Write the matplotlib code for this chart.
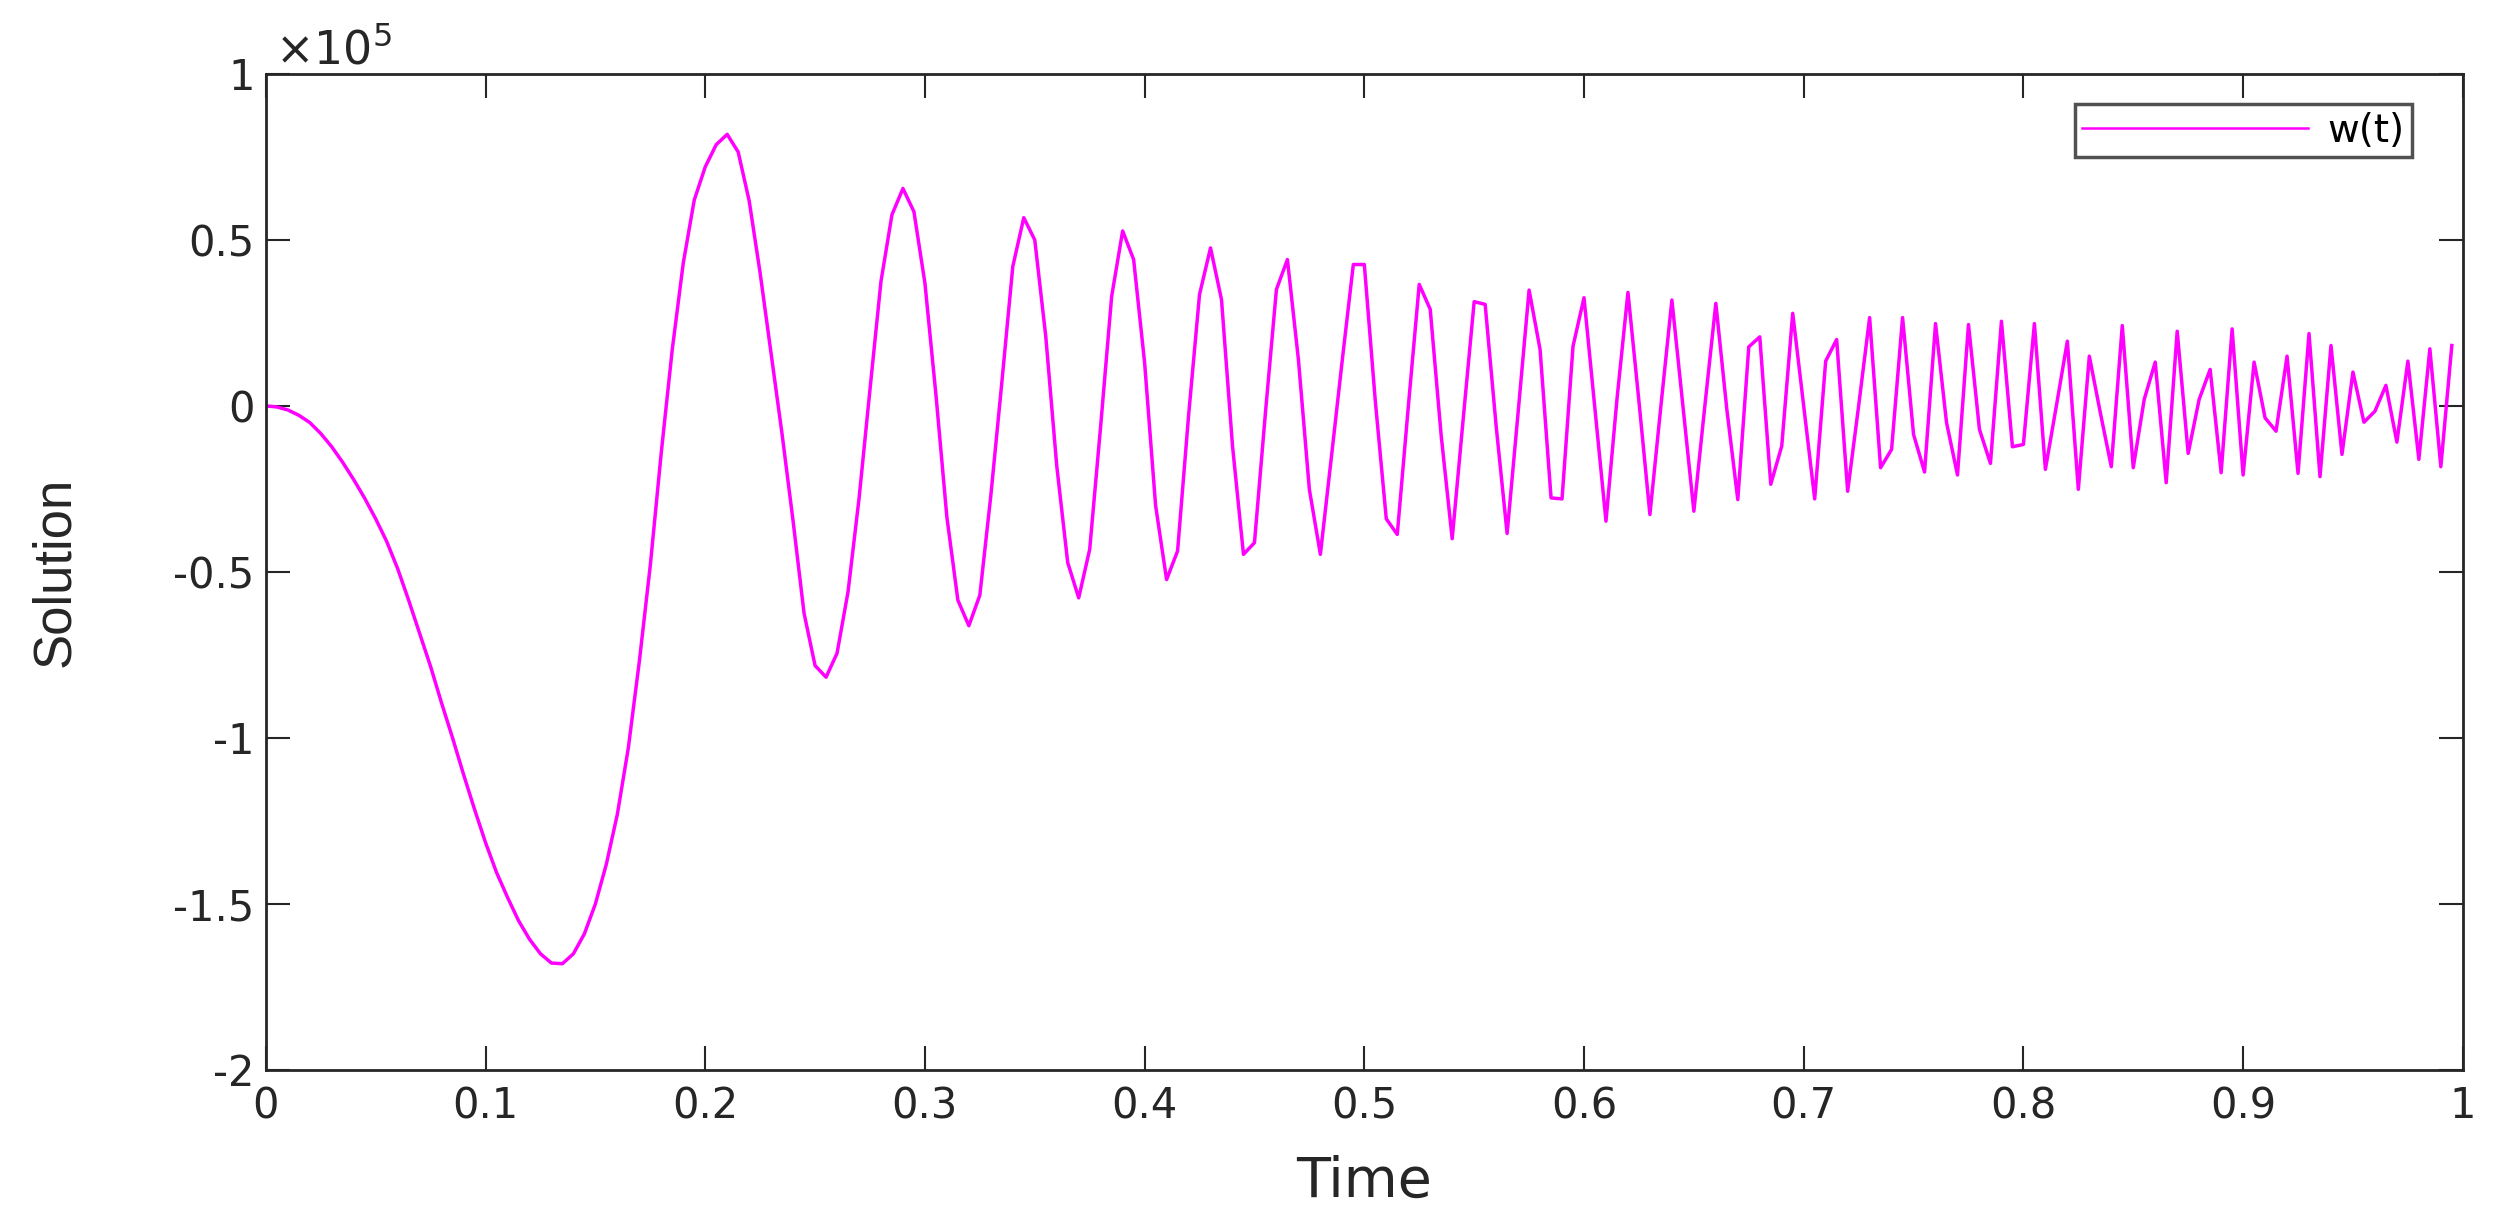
import numpy as np
import matplotlib
matplotlib.use("Agg")
import matplotlib.pyplot as plt
from matplotlib.ticker import FuncFormatter

# time samples (step 0.005) and solution w(t), in units of 1e5
t = np.round(np.arange(0, 1.0, 0.005), 3)

w_scaled = [
    0.000, -0.003, -0.012, -0.028, -0.050, -0.083, -0.123, -0.170, -0.222, -0.278,
    -0.340, -0.408, -0.490, -0.585, -0.685, -0.785, -0.895, -1.000, -1.110, -1.215,
    -1.315, -1.405, -1.480, -1.550, -1.606, -1.650, -1.678, -1.680, -1.650, -1.590,
    -1.500, -1.380, -1.230, -1.030, -0.770, -0.480, -0.140, 0.170, 0.430, 0.620,
    0.720, 0.787, 0.818, 0.765, 0.618, 0.400, 0.157, -0.086, -0.347, -0.625,
    -0.782, -0.817, -0.745, -0.560, -0.280, 0.050, 0.375, 0.576, 0.655, 0.585,
    0.370, 0.035, -0.335, -0.585, -0.662, -0.570, -0.270, 0.070, 0.420, 0.567,
    0.500, 0.210, -0.180, -0.472, -0.578, -0.432, -0.060, 0.330, 0.527, 0.441,
    0.130, -0.300, -0.523, -0.437, -0.030, 0.336, 0.476, 0.320, -0.120, -0.447,
    -0.412, -0.020, 0.351, 0.441, 0.140, -0.252, -0.447, -0.155, 0.140, 0.426,
    0.426, 0.015, -0.340, -0.387, -0.004, 0.366, 0.291, -0.090, -0.400, -0.040,
    0.314, 0.306, -0.060, -0.384, -0.020, 0.349, 0.170, -0.277, -0.280, 0.180,
    0.326, -0.010, -0.347, 0.020, 0.342, 0.014, -0.327, 0.000, 0.319, 0.000,
    -0.317, 0.000, 0.309, -0.010, -0.282, 0.178, 0.208, -0.236, -0.121, 0.279,
    0.000, -0.280, 0.135, 0.200, -0.257, 0.000, 0.266, -0.186, -0.131, 0.266,
    -0.086, -0.199, 0.248, -0.050, -0.208, 0.245, -0.071, -0.173, 0.255, -0.123,
    -0.116, 0.248, -0.191, 0.000, 0.195, -0.251, 0.150, -0.020, -0.183, 0.242,
    -0.186, 0.020, 0.132, -0.231, 0.225, -0.143, 0.020, 0.110, -0.201, 0.232,
    -0.208, 0.132, -0.036, -0.076, 0.150, -0.203, 0.218, -0.213, 0.182, -0.146,
    0.102, -0.049, -0.016, 0.062, -0.109, 0.135, -0.161, 0.172, -0.183, 0.182,
]
w = np.array(w_scaled) * 1e5

x_ticks = np.arange(0, 1.01, 0.1)
y_ticks = np.arange(-2e5, 1.01e5, 0.5e5)

plt.rcParams['font.family'] = ['DejaVu Sans']
plt.rcParams['mathtext.fontset'] = 'dejavusans'
axis_col = "#262626"

fig = plt.figure(figsize=(24.96, 12.12), dpi=100)
ax = fig.add_axes([0.1065, 0.1172, 0.8802, 0.8218])

ax.plot(t, w, color="#ff00ff", lw=2.5, label="w(t)")

ax.set_xlim(0, 1)
ax.set_ylim(-2e5, 1e5)
ax.set_xticks(x_ticks)
ax.set_yticks(y_ticks)
ax.xaxis.set_major_formatter(FuncFormatter(lambda v, p: f"{v:g}"))
ax.yaxis.set_major_formatter(FuncFormatter(lambda v, p: f"{v / 1e5:g}"))

ax.tick_params(axis='both', which='major', direction='in', length=17, width=1.5,
               top=True, right=True, labelsize=30, colors=axis_col)
ax.tick_params(axis='x', pad=11)
ax.tick_params(axis='y', pad=8)
for s in ax.spines.values():
    s.set_color(axis_col)
    s.set_linewidth(2)

ax.text(0.004, 1.009, r"$\times10^{5}$", transform=ax.transAxes, fontsize=33,
        color=axis_col, ha='left', va='baseline')

ax.set_xlabel("Time", fontsize=40, color=axis_col)
ax.xaxis.set_label_coords(0.5, -0.085)
ax.set_ylabel("Solution", fontsize=38, color=axis_col,
              family=['Liberation Sans Narrow', 'Liberation Sans', 'DejaVu Sans'])
ax.yaxis.set_label_coords(-0.0845, 0.5)

leg = ax.legend(loc='upper right', fontsize=28, frameon=True, fancybox=False,
                handlelength=5.8, handletextpad=0.5, borderpad=0.2,
                borderaxespad=0, bbox_to_anchor=(0.977, 0.97))
leg.get_frame().set_edgecolor(axis_col)
leg.get_frame().set_linewidth(2.5)
for h in leg.get_lines():
    h.set_linewidth(1.8)

fig.savefig("out.png", dpi=100, facecolor="white")
